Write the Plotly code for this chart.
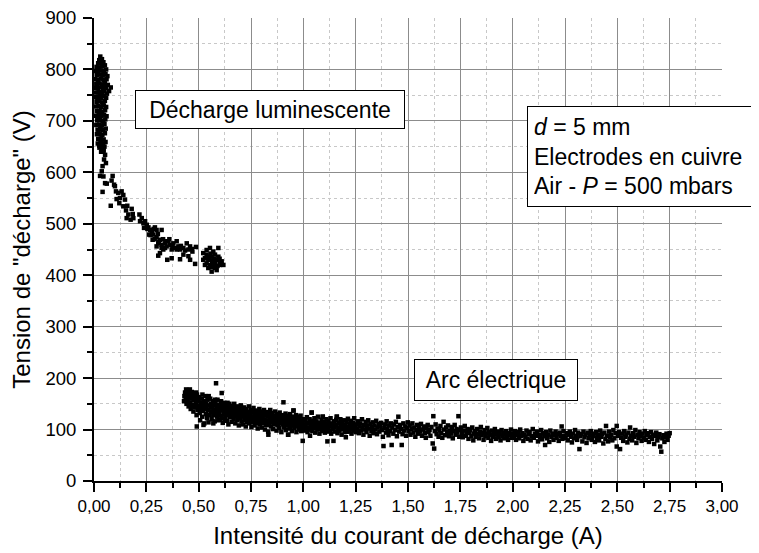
import plotly.graph_objects as go

# ---------------- data (current A, voltage V) ----------------
glow_points = [
    (0.030, 825), (0.025, 818), (0.038, 820), (0.020, 812), (0.032, 812), (0.045, 814),
    (0.012, 805), (0.026, 804), (0.040, 806), (0.052, 808), (0.008, 797), (0.020, 796),
    (0.034, 798), (0.047, 797), (0.058, 800), (0.013, 789), (0.027, 790), (0.041, 788),
    (0.055, 791), (0.064, 787), (0.006, 781), (0.019, 780), (0.033, 782), (0.046, 779),
    (0.060, 781), (0.011, 772), (0.025, 773), (0.039, 771), (0.052, 774), (0.066, 770),
    (0.005, 764), (0.018, 763), (0.031, 765), (0.044, 762), (0.057, 764), (0.080, 765),
    (0.072, 758), (0.010, 755), (0.024, 756), (0.037, 754), (0.050, 757), (0.062, 753),
    (0.007, 746), (0.020, 747), (0.033, 745), (0.046, 748), (0.058, 745), (0.012, 737),
    (0.026, 738), (0.039, 736), (0.052, 739), (0.008, 728), (0.021, 729), (0.034, 727),
    (0.047, 730), (0.058, 727), (0.013, 719), (0.027, 720), (0.040, 718), (0.053, 721),
    (0.009, 710), (0.022, 711), (0.035, 709), (0.048, 712), (0.060, 709), (0.015, 701),
    (0.028, 702), (0.041, 700), (0.054, 703), (0.011, 692), (0.024, 693), (0.037, 691),
    (0.050, 694), (0.017, 683), (0.030, 684), (0.043, 682), (0.056, 685), (0.014, 674),
    (0.027, 675), (0.040, 673), (0.052, 676), (0.020, 665), (0.033, 666), (0.046, 664),
    (0.018, 656), (0.031, 657), (0.044, 655), (0.055, 659), (0.026, 648), (0.039, 647),
    (0.050, 650), (0.034, 640), (0.046, 642),
    (0.018, 800), (0.044, 790), (0.015, 770), (0.049, 766), (0.029, 750), (0.016, 741),
    (0.043, 733), (0.030, 715), (0.018, 706), (0.045, 697), (0.031, 688), (0.022, 678),
    (0.036, 661), (0.025, 652),
]

transition_points = [
    (0.045, 644), (0.053, 634), (0.048, 625), (0.057, 618), (0.041, 612), (0.037, 602),
    (0.029, 593), (0.045, 592), (0.053, 579), (0.061, 578), (0.089, 593), (0.084, 584),
    (0.096, 576), (0.041, 562), (0.080, 535), (0.100, 573), (0.105, 563), (0.116, 560),
    (0.132, 563), (0.124, 550), (0.108, 548), (0.140, 556), (0.148, 547), (0.121, 540),
    (0.140, 534), (0.159, 535), (0.153, 526), (0.164, 518), (0.180, 529), (0.185, 519),
    (0.156, 511), (0.175, 508), (0.188, 511), (0.217, 518), (0.228, 511), (0.220, 505),
    (0.236, 501), (0.244, 505), (0.252, 498), (0.260, 493), (0.239, 492), (0.268, 488),
    (0.276, 485), (0.291, 493), (0.299, 488), (0.323, 488), (0.264, 479), (0.283, 479),
    (0.299, 474), (0.315, 469), (0.280, 469), (0.307, 462), (0.323, 459), (0.339, 462),
    (0.355, 466), (0.347, 456), (0.363, 459), (0.379, 462), (0.395, 466), (0.371, 450),
    (0.387, 453), (0.403, 456), (0.411, 450), (0.427, 453), (0.443, 462), (0.451, 450),
    (0.459, 456), (0.467, 451), (0.487, 455), (0.331, 450), (0.315, 443), (0.307, 438),
    (0.350, 430), (0.371, 433), (0.411, 431), (0.427, 440), (0.451, 437), (0.459, 430),
    (0.483, 422), (0.299, 456), (0.323, 453), (0.339, 453), (0.270, 478), (0.290, 470),
    (0.305, 480), (0.285, 490), (0.255, 490), (0.310, 465), (0.330, 470), (0.345, 466),
    (0.360, 470), (0.375, 455), (0.395, 450), (0.415, 457), (0.435, 448), (0.470, 446),
]

cluster_points = [
    (0.522, 443), (0.538, 440), (0.554, 453), (0.594, 453), (0.530, 433), (0.546, 430),
    (0.562, 436), (0.578, 440), (0.586, 430), (0.602, 427), (0.570, 423), (0.554, 420),
    (0.530, 420), (0.546, 414), (0.578, 414), (0.602, 420), (0.610, 427), (0.562, 407),
    (0.586, 410), (0.538, 449), (0.570, 446), (0.594, 436), (0.522, 430), (0.618, 420),
    (0.538, 423), (0.573, 431), (0.557, 442), (0.565, 428), (0.580, 425), (0.550, 436),
    (0.590, 418), (0.600, 432), (0.575, 418), (0.560, 416),
]

arc_points = [
    (0.430, 155), (0.432, 165), (0.435, 172), (0.438, 160), (0.440, 178), (0.442, 150),
    (0.445, 168), (0.447, 158), (0.450, 175), (0.452, 145), (0.455, 163), (0.457, 170),
    (0.460, 152), (0.462, 140), (0.465, 160), (0.467, 173), (0.470, 148), (0.472, 166),
    (0.475, 135), (0.477, 157), (0.480, 170), (0.482, 143), (0.485, 162), (0.487, 150),
    (0.490, 128), (0.492, 168), (0.495, 138), (0.497, 155), (0.500, 146), (0.502, 163),
    (0.505, 132), (0.507, 118), (0.510, 152), (0.512, 140), (0.515, 160), (0.517, 125),
    (0.520, 148), (0.522, 136), (0.525, 155), (0.527, 112), (0.530, 143), (0.532, 165),
    (0.535, 130), (0.537, 150), (0.540, 122), (0.542, 158), (0.545, 138), (0.547, 114),
    (0.550, 147), (0.552, 128),
    (0.555, 160), (0.557, 135), (0.560, 150), (0.562, 120), (0.565, 143), (0.567, 155),
    (0.570, 128), (0.572, 147), (0.575, 138), (0.577, 116), (0.580, 152), (0.582, 132),
    (0.585, 145), (0.587, 125), (0.590, 158), (0.592, 140), (0.595, 118), (0.597, 135),
    (0.600, 148), (0.602, 127), (0.605, 142), (0.607, 155), (0.610, 122), (0.612, 137),
    (0.615, 113), (0.617, 146), (0.620, 130), (0.622, 152), (0.625, 120), (0.627, 140),
    (0.630, 133), (0.632, 148), (0.635, 117), (0.637, 128), (0.640, 143), (0.642, 110),
    (0.645, 136), (0.647, 150), (0.650, 124), (0.652, 140), (0.655, 131), (0.657, 115),
    (0.660, 146), (0.662, 127), (0.665, 138), (0.667, 120), (0.670, 150), (0.672, 133),
    (0.675, 112), (0.677, 142), (0.680, 126), (0.682, 137), (0.685, 118), (0.687, 145),
    (0.690, 130), (0.692, 108), (0.695, 140), (0.697, 122), (0.700, 134), (0.702, 147),
    (0.705, 116), (0.707, 128), (0.710, 138), (0.712, 110), (0.715, 125), (0.717, 143),
    (0.720, 119), (0.722, 132), (0.725, 106), (0.727, 140), (0.730, 124), (0.732, 115),
    (0.735, 135), (0.737, 127), (0.740, 145), (0.742, 112), (0.745, 130), (0.747, 120),
    (0.750, 138),
    (0.752, 105), (0.755, 125), (0.757, 133), (0.760, 115), (0.762, 142), (0.765, 122),
    (0.767, 108), (0.770, 130), (0.772, 118), (0.775, 137), (0.777, 112), (0.780, 126),
    (0.782, 102), (0.785, 133), (0.787, 120), (0.790, 140), (0.792, 110), (0.795, 128),
    (0.797, 116), (0.800, 135), (0.802, 104), (0.805, 123), (0.807, 131), (0.810, 113),
    (0.812, 138), (0.815, 119), (0.817, 100), (0.820, 127), (0.822, 109), (0.825, 134),
    (0.827, 117), (0.830, 125), (0.832, 96), (0.835, 130), (0.837, 112), (0.840, 121),
    (0.842, 138), (0.845, 106), (0.847, 127), (0.850, 115), (0.852, 132), (0.855, 101),
    (0.857, 119), (0.860, 126), (0.862, 110), (0.865, 135), (0.867, 114), (0.870, 123),
    (0.872, 98), (0.875, 130), (0.877, 108), (0.880, 118), (0.882, 127), (0.885, 103),
    (0.887, 133), (0.890, 113), (0.892, 121), (0.895, 95), (0.897, 128), (0.900, 110),
    (0.902, 119), (0.905, 153), (0.907, 104), (0.910, 125), (0.912, 115), (0.915, 131),
    (0.917, 99), (0.920, 120), (0.922, 108), (0.925, 127), (0.927, 90), (0.930, 116),
    (0.932, 123), (0.935, 102), (0.937, 130), (0.940, 112), (0.942, 119), (0.945, 97),
    (0.947, 125), (0.950, 108), (0.953, 137), (0.955, 117), (0.957, 103), (0.960, 122),
    (0.962, 111), (0.965, 128), (0.967, 95), (0.970, 119), (0.972, 106), (0.975, 125),
    (0.977, 114), (0.980, 100), (0.982, 121), (0.985, 109), (0.987, 127), (0.990, 97),
    (0.992, 116), (0.995, 104), (0.997, 78), (1.000, 120),
    (1.003, 110), (1.007, 98), (1.010, 118), (1.013, 104), (1.017, 124), (1.020, 95),
    (1.023, 113), (1.027, 101), (1.030, 120), (1.032, 88), (1.035, 107), (1.038, 115),
    (1.040, 133), (1.043, 97), (1.047, 111), (1.050, 103), (1.053, 122), (1.057, 94),
    (1.060, 109), (1.063, 116), (1.067, 100), (1.070, 125), (1.073, 106), (1.077, 92),
    (1.080, 113), (1.083, 101), (1.087, 119), (1.090, 97), (1.093, 125), (1.097, 108),
    (1.100, 115), (1.103, 94), (1.107, 104), (1.110, 120), (1.113, 99), (1.115, 77),
    (1.117, 110), (1.120, 117), (1.123, 96), (1.127, 106), (1.130, 122), (1.133, 92),
    (1.137, 112), (1.140, 101), (1.144, 78), (1.147, 116), (1.150, 96), (1.153, 108),
    (1.157, 119), (1.160, 125), (1.163, 93), (1.167, 104), (1.170, 113), (1.173, 98),
    (1.177, 120), (1.180, 107), (1.183, 90), (1.187, 114), (1.190, 101), (1.193, 118),
    (1.197, 95), (1.200, 109), (1.203, 85), (1.207, 115), (1.210, 103), (1.213, 121),
    (1.217, 96), (1.220, 110), (1.223, 100), (1.227, 117), (1.230, 92), (1.233, 106),
    (1.237, 113), (1.240, 98), (1.243, 122), (1.247, 104), (1.250, 95),
    (1.253, 110), (1.257, 101), (1.260, 116), (1.265, 93), (1.268, 106), (1.272, 112),
    (1.275, 98), (1.280, 120), (1.283, 104), (1.287, 90), (1.290, 109), (1.295, 100),
    (1.298, 115), (1.302, 95), (1.305, 107), (1.310, 118), (1.313, 102), (1.317, 88),
    (1.320, 111), (1.325, 97), (1.328, 105), (1.332, 114), (1.335, 93), (1.340, 108),
    (1.343, 100), (1.348, 117), (1.352, 91), (1.355, 104), (1.360, 111), (1.363, 96),
    (1.368, 107), (1.372, 113), (1.375, 99), (1.380, 86), (1.383, 68), (1.387, 103),
    (1.390, 110), (1.395, 94), (1.398, 116), (1.402, 101), (1.407, 89), (1.410, 108),
    (1.415, 97), (1.418, 112), (1.422, 70), (1.425, 104), (1.430, 92), (1.433, 110),
    (1.438, 99), (1.442, 115), (1.447, 87), (1.450, 105), (1.454, 125), (1.458, 96),
    (1.462, 109), (1.466, 101), (1.470, 70), (1.474, 91), (1.478, 112), (1.482, 98),
    (1.487, 106), (1.491, 88), (1.495, 103), (1.499, 114),
    (1.503, 97), (1.508, 108), (1.512, 90), (1.517, 101), (1.521, 112), (1.526, 94),
    (1.530, 104), (1.535, 86), (1.540, 99), (1.544, 109), (1.549, 92), (1.553, 103),
    (1.558, 96), (1.562, 111), (1.567, 88), (1.571, 100), (1.576, 106), (1.580, 93),
    (1.585, 84), (1.589, 102), (1.594, 109), (1.598, 95), (1.603, 99), (1.607, 88),
    (1.612, 105), (1.618, 73), (1.621, 126), (1.625, 63), (1.628, 97), (1.632, 110),
    (1.637, 91), (1.641, 102), (1.646, 86), (1.650, 99), (1.655, 107), (1.659, 93),
    (1.664, 84), (1.670, 115), (1.673, 100), (1.678, 89), (1.682, 104), (1.687, 95),
    (1.691, 108), (1.696, 87), (1.700, 98), (1.705, 92), (1.709, 105), (1.714, 83),
    (1.718, 97), (1.723, 109), (1.727, 90), (1.732, 101), (1.736, 94), (1.741, 126),
    (1.745, 86), (1.749, 99),
    (1.753, 104), (1.758, 92), (1.762, 85), (1.767, 98), (1.771, 107), (1.776, 88),
    (1.780, 95), (1.785, 101), (1.789, 82), (1.794, 93), (1.798, 99), (1.803, 87),
    (1.807, 104), (1.812, 79), (1.816, 92), (1.821, 97), (1.825, 86), (1.830, 101),
    (1.834, 91), (1.839, 83), (1.843, 96), (1.848, 105), (1.852, 89), (1.857, 94),
    (1.861, 80), (1.866, 99), (1.870, 87), (1.875, 92), (1.879, 103), (1.884, 84),
    (1.888, 95), (1.893, 90), (1.897, 78), (1.902, 98), (1.906, 86), (1.911, 93),
    (1.915, 101), (1.920, 82), (1.924, 90), (1.929, 96), (1.933, 85), (1.938, 92),
    (1.942, 79), (1.947, 99), (1.951, 88), (1.956, 94), (1.960, 83), (1.965, 91),
    (1.969, 97), (1.974, 86), (1.978, 80), (1.983, 93), (1.987, 89), (1.992, 100),
    (1.996, 84),
    (2.001, 92), (2.006, 85), (2.011, 97), (2.016, 80), (2.021, 89), (2.026, 95),
    (2.031, 83), (2.036, 100), (2.041, 88), (2.046, 93), (2.051, 78), (2.056, 90),
    (2.061, 86), (2.066, 98), (2.071, 82), (2.076, 91), (2.081, 95), (2.086, 79),
    (2.091, 87), (2.096, 101), (2.101, 84), (2.106, 92), (2.111, 88), (2.116, 96),
    (2.121, 77), (2.126, 90), (2.131, 85), (2.136, 99), (2.141, 81), (2.146, 93),
    (2.151, 87), (2.155, 70), (2.160, 95), (2.165, 83), (2.170, 90), (2.175, 76),
    (2.180, 98), (2.185, 86), (2.190, 92), (2.195, 80), (2.200, 89), (2.205, 96),
    (2.210, 84), (2.215, 91), (2.220, 78), (2.225, 94), (2.230, 87), (2.234, 106),
    (2.238, 82), (2.243, 97), (2.248, 88),
    (2.253, 84), (2.258, 93), (2.263, 79), (2.268, 90), (2.273, 96), (2.278, 86),
    (2.283, 75), (2.288, 92), (2.293, 83), (2.298, 99), (2.303, 88), (2.308, 80),
    (2.313, 94), (2.319, 62), (2.323, 87), (2.328, 91), (2.333, 77), (2.338, 96),
    (2.343, 85), (2.348, 90), (2.353, 74), (2.358, 94), (2.363, 83), (2.368, 89),
    (2.373, 97), (2.378, 80), (2.383, 87), (2.388, 92), (2.393, 76), (2.398, 95),
    (2.403, 84), (2.408, 89), (2.413, 79), (2.418, 98), (2.423, 86), (2.428, 91),
    (2.433, 73), (2.438, 94), (2.443, 82), (2.446, 107), (2.451, 88), (2.456, 77),
    (2.461, 96), (2.466, 85), (2.471, 90), (2.476, 79), (2.481, 99), (2.486, 83),
    (2.491, 93), (2.497, 67), (2.497, 107),
    (2.503, 88), (2.508, 95), (2.513, 62), (2.518, 84), (2.523, 92), (2.528, 78),
    (2.533, 97), (2.538, 86), (2.543, 90), (2.548, 75), (2.553, 94), (2.558, 82),
    (2.561, 104), (2.566, 88), (2.571, 79), (2.576, 93), (2.581, 86), (2.586, 99),
    (2.591, 74), (2.596, 90), (2.601, 83), (2.606, 95), (2.611, 87), (2.616, 78),
    (2.621, 92), (2.626, 84), (2.631, 97), (2.636, 80), (2.641, 89), (2.646, 93),
    (2.651, 76), (2.656, 86), (2.661, 95), (2.666, 82), (2.671, 90), (2.676, 72),
    (2.681, 88), (2.686, 94), (2.691, 79), (2.696, 85), (2.701, 91), (2.705, 67),
    (2.710, 57), (2.715, 83), (2.720, 89), (2.725, 76), (2.730, 85), (2.735, 92),
    (2.740, 80), (2.745, 88), (2.750, 93),
]

arc_dense_points = [
    (0.436, 168), (0.448, 152), (0.458, 178), (0.468, 145), (0.478, 162), (0.488, 172),
    (0.498, 158), (0.508, 145), (0.518, 168), (0.528, 150), (0.538, 140), (0.548, 165),
    (0.558, 143), (0.568, 135), (0.578, 158), (0.588, 148), (0.598, 130), (0.608, 150),
    (0.618, 138), (0.628, 125), (0.638, 152), (0.648, 132), (0.658, 145), (0.668, 128),
    (0.678, 135), (0.688, 122), (0.698, 144), (0.708, 131), (0.718, 126), (0.728, 134),
    (0.738, 118), (0.748, 126), (0.758, 118), (0.768, 135), (0.778, 124), (0.788, 113),
    (0.798, 122), (0.808, 128), (0.818, 115), (0.828, 109), (0.838, 117), (0.848, 124),
    (0.858, 112), (0.868, 118), (0.878, 111), (0.888, 124), (0.898, 115), (0.908, 112),
    (0.918, 108), (0.928, 113), (0.938, 105), (0.948, 116), (0.958, 110), (0.968, 113),
    (0.978, 107), (0.988, 112), (0.998, 110), (1.008, 106), (1.018, 112), (1.028, 104),
    (1.038, 100), (1.048, 117), (1.058, 105), (1.068, 111), (1.078, 103), (1.088, 108),
    (1.098, 101), (1.108, 112), (1.118, 104), (1.128, 98), (1.138, 108), (1.148, 104),
    (1.158, 110), (1.168, 98), (1.178, 103), (1.188, 108), (1.198, 102), (1.208, 96),
    (1.218, 105), (1.228, 101), (1.238, 108), (1.248, 100),
    (0.491, 106), (0.523, 109), (0.570, 112), (0.602, 119), (0.583, 190), (0.610, 171),
    (0.833, 90), (0.928, 90), (1.093, 125), (1.160, 125), (1.040, 133), (0.953, 137),
]

x_tick_values = [0, 0.25, 0.5, 0.75, 1.0, 1.25, 1.5, 1.75, 2.0, 2.25, 2.5, 2.75, 3.0]
x_tick_labels = ["0,00", "0,25", "0,50", "0,75", "1,00", "1,25", "1,50", "1,75",
                 "2,00", "2,25", "2,50", "2,75", "3,00"]
y_tick_values = [0, 100, 200, 300, 400, 500, 600, 700, 800, 900]

x_title = "Intensité du courant de décharge (A)"
y_title = 'Tension de "décharge" (V)'
label_glow = "Décharge luminescente"
label_arc = "Arc électrique"
label_conditions = "<i>d</i> = 5 mm<br>Electrodes en cuivre<br>Air - <i>P</i> = 500 mbars"

# ---------------- figure ----------------
all_points = glow_points + transition_points + cluster_points + arc_points + arc_dense_points
xs = [p[0] for p in all_points]
ys = [p[1] for p in all_points]

FONT = "Liberation Sans, Arial, sans-serif"

fig = go.Figure()
fig.add_trace(go.Scatter(
    x=xs, y=ys, mode="markers",
    marker=dict(symbol="square", size=4.5, color="black", line=dict(width=0)),
    showlegend=False, hoverinfo="skip",
))

axis_common = dict(
    showline=True, linecolor="black", linewidth=2,
    ticks="outside", ticklen=9, tickwidth=1.5, tickcolor="black",
    showgrid=True, gridcolor="#8c8c8c", gridwidth=1,
    zeroline=False, mirror=False, automargin=False,
    ticklabeloverflow="allow",
)

fig.update_xaxes(
    range=[0, 3], tickvals=x_tick_values, ticktext=x_tick_labels,
    tickfont=dict(family=FONT, size=17, color="black"),
    title=dict(text=x_title, font=dict(family=FONT, size=24, color="black"), standoff=12),
    minor=dict(dtick=0.125, tick0=0, ticks="outside", ticklen=5, tickwidth=1.5,
               tickcolor="black", showgrid=True, gridcolor="#c8c8c8", griddash="dot",
               gridwidth=1),
    **axis_common,
)
fig.update_yaxes(
    range=[0, 900], tickvals=y_tick_values,
    tickfont=dict(family=FONT, size=18.5, color="black"),
    title=dict(text=y_title, font=dict(family=FONT, size=24, color="black"), standoff=12),
    minor=dict(dtick=50, tick0=0, ticks="outside", ticklen=5, tickwidth=1.5,
               tickcolor="black", showgrid=True, gridcolor="#c8c8c8", griddash="dot",
               gridwidth=1),
    ticklabelstandoff=3,
    **axis_common,
)

ann_font = dict(family=FONT, size=23, color="black")
fig.add_annotation(x=0.841, y=723, xref="x", yref="y", text=label_glow, showarrow=False,
                   font=ann_font, bgcolor="white", bordercolor="black", borderwidth=1,
                   borderpad=0, width=268, height=37, align="center")
fig.add_annotation(x=1.921, y=196.5, xref="x", yref="y", text=label_arc, showarrow=False,
                   font=ann_font, bgcolor="white", bordercolor="black", borderwidth=1,
                   borderpad=0, width=162, height=40, align="center")
fig.add_annotation(x=2.633, y=631, xref="x", yref="y", text=label_conditions, showarrow=False,
                   font=ann_font, bgcolor="white", bordercolor="black", borderwidth=1,
                   borderpad=6, width=222, height=87, align="left")

# the page body adds an 8 px offset, so the figure is sized to fit the 759x553 window
fig.update_layout(
    width=751, height=545,
    margin=dict(l=86, r=37, t=10, b=72, autoexpand=False),
    plot_bgcolor="white", paper_bgcolor="white",
    font=dict(family=FONT, color="black"),
)

fig.write_html("out.html")
